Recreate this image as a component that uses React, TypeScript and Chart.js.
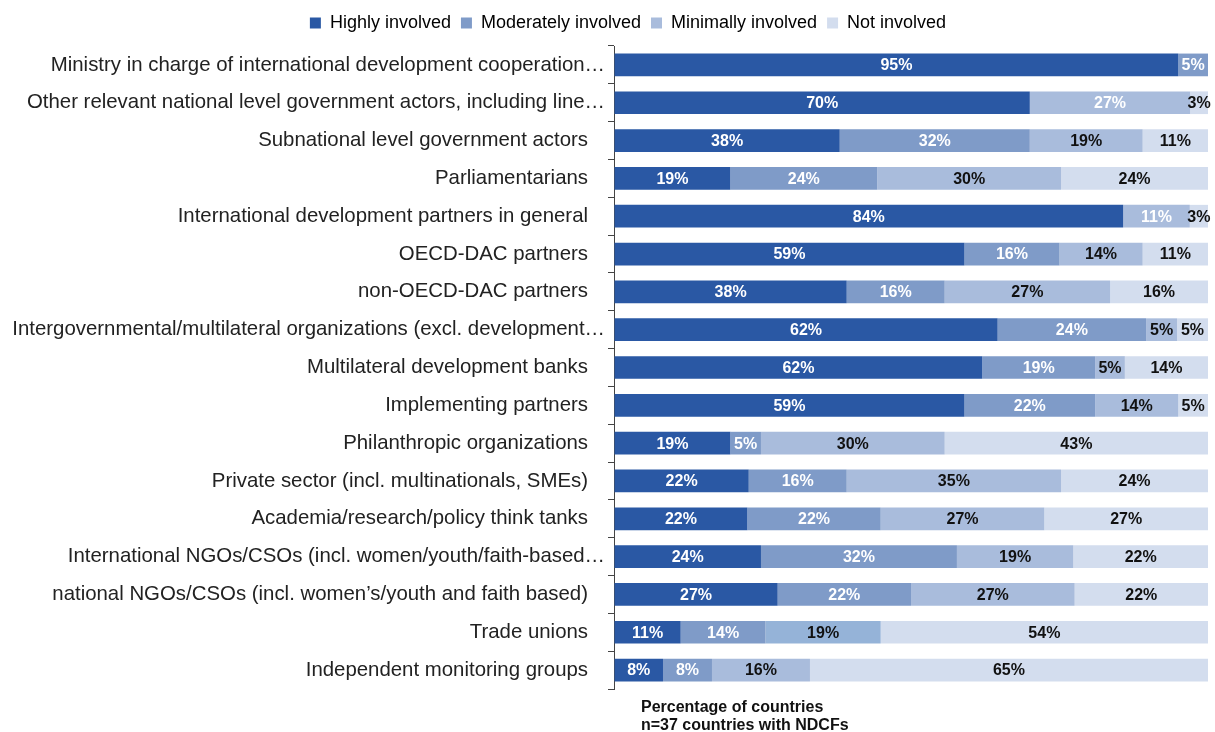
import React, { useEffect, useRef } from "react";
import { Chart, registerables } from "chart.js";

Chart.register(...registerables);

const categories = [
  "Ministry in charge of international development cooperation…",
  "Other relevant national level government actors, including line…",
  "Subnational level government actors",
  "Parliamentarians",
  "International development partners in general",
  "OECD-DAC partners",
  "non-OECD-DAC partners",
  "Intergovernmental/multilateral organizations (excl. development…",
  "Multilateral development banks",
  "Implementing partners",
  "Philanthropic organizations",
  "Private sector (incl. multinationals, SMEs)",
  "Academia/research/policy think tanks",
  "International NGOs/CSOs (incl. women/youth/faith-based…",
  "national NGOs/CSOs (incl. women’s/youth and faith based)",
  "Trade unions",
  "Independent monitoring groups",
];

const seriesNames = ["Highly involved", "Moderately involved", "Minimally involved", "Not involved"];

const highly = [95, 70, 38, 19, 84, 59, 38, 62, 62, 59, 19, 22, 22, 24, 27, 11, 8];
const moderately = [5, 0, 32, 24, 0, 16, 16, 24, 19, 22, 5, 16, 22, 32, 22, 14, 8];
const minimally = [0, 27, 19, 30, 11, 14, 27, 5, 5, 14, 30, 35, 27, 19, 27, 19, 16];
const notInvolved = [0, 3, 11, 24, 3, 11, 16, 5, 14, 5, 43, 24, 27, 22, 22, 54, 65];

const axisTitleLines = ["Percentage of countries", "n=37 countries with NDCFs"];

const COLORS = ["#2a58a4", "#7f9bc8", "#a9bcdc", "#d3ddee"];
const MIN_ALT = "#95b3d8";
const FONT = "'Liberation Sans', Arial, Helvetica, sans-serif";

const rawSeries = [highly, moderately, minimally, notInvolved];
const rowTotals = categories.map((_, i) => rawSeries.reduce((s, arr) => s + arr[i], 0));
const shares = rawSeries.map((arr) => arr.map((v, i) => (v / rowTotals[i]) * 100));

const PAD_LEFT = 4;
const AXIS_X = 614;
const LEGEND_SHIFT = 22;

const segLabels = {
  id: "segLabels",
  afterLayout(chart: any) {
    const lg = chart.legend;
    if (lg) {
      lg.left += LEGEND_SHIFT;
      lg.right += LEGEND_SHIFT;
    }
  },
  afterDatasetsDraw(chart: any) {
    const ctx = chart.ctx;
    ctx.save();
    ctx.font = `bold 16px ${FONT}`;
    ctx.textAlign = "center";
    ctx.textBaseline = "middle";
    for (let i = 0; i < categories.length; i++) {
      let count = 0;
      for (let d = 0; d < rawSeries.length; d++) {
        const raw = rawSeries[d][i];
        if (!raw) continue;
        const el = chart.getDatasetMeta(d).data[i];
        const p = el.getProps(["x", "base", "y"], true);
        ctx.fillStyle = count < 2 ? "#ffffff" : "#111111";
        ctx.fillText(raw + "%", (p.x + p.base) / 2, p.y + 1);
        count++;
      }
    }
    ctx.restore();
  },
};

const axisTitle = {
  id: "axisTitle",
  afterDraw(chart: any) {
    const ctx = chart.ctx;
    const a = chart.chartArea;
    ctx.save();
    ctx.font = `bold 16px ${FONT}`;
    ctx.fillStyle = "#111111";
    ctx.textAlign = "left";
    ctx.textBaseline = "middle";
    axisTitleLines.forEach((t, k) => ctx.fillText(t, a.left + 27, a.bottom + 19 + k * 18));
    ctx.restore();
  },
};

export default function App() {
  const ref = useRef<HTMLCanvasElement | null>(null);
  useEffect(() => {
    document.body.style.margin = "0";
    const chart = new Chart(ref.current as HTMLCanvasElement, {
      type: "bar",
      data: {
        labels: categories.map((c) => (c.endsWith("…") ? c : c + "\u2002\u2004")),
        datasets: seriesNames.map((name, d) => ({
          label: name,
          data: shares[d],
          backgroundColor:
            d === 2
              ? categories.map((c) => (c === "Trade unions" ? MIN_ALT : COLORS[2]))
              : COLORS[d],
          borderWidth: 0,
          categoryPercentage: 1,
          barPercentage: 0.6,
        })),
      },
      options: {
        indexAxis: "y",
        responsive: false,
        animation: false,
        layout: { padding: { left: PAD_LEFT, right: 7, top: 4, bottom: 43 } },
        plugins: {
          legend: {
            position: "top",
            labels: {
              boxWidth: 11,
              boxHeight: 11,
              padding: 10,
              color: "#222222",
              font: { size: 18, family: FONT },
              generateLabels: (chart: any) =>
                chart.data.datasets.map((ds: any, i: number) => ({
                  text: ds.label,
                  fillStyle: COLORS[i],
                  strokeStyle: COLORS[i],
                  lineWidth: 0,
                  datasetIndex: i,
                  hidden: false,
                })),
            },
          },
          tooltip: { enabled: false },
        },
        scales: {
          x: {
            stacked: true,
            min: 0,
            max: 100,
            position: "top",
            display: true,
            ticks: { display: false },
            grid: {
              display: true,
              drawOnChartArea: false,
              drawTicks: true,
              tickLength: 4,
              color: "rgba(0,0,0,0)",
            },
            border: { display: false },
          },
          y: {
            stacked: true,
            afterFit: (scale: any) => {
              scale.width = AXIS_X - PAD_LEFT;
            },
            grid: {
              display: true,
              drawOnChartArea: false,
              drawTicks: true,
              tickLength: 6,
              color: "#444444",
              offset: true,
            },
            border: { display: true, color: "#444444", width: 1 },
            ticks: {
              padding: 3,
              color: "#222222",
              font: { size: 20.4, family: FONT },
              autoSkip: false,
            },
          },
        },
      },
      plugins: [segLabels, axisTitle],
    } as any);
    return () => chart.destroy();
  }, []);
  return (
    <div style={{ width: 1215, height: 732 }}>
      <canvas ref={ref} width={1215} height={732} style={{ display: "block" }} />
    </div>
  );
}
